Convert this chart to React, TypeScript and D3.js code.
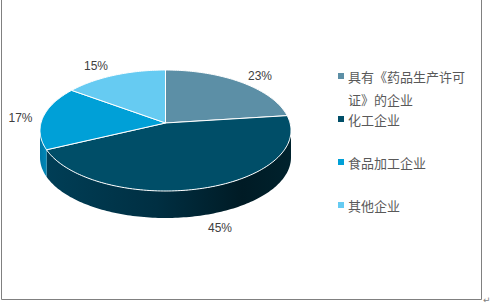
import React from "react";
import * as d3 from "d3";

const categories = ["具有《药品生产许可证》的企业", "化工企业", "食品加工企业", "其他企业"];
const legendLines = [["具有《药品生产许可", "证》的企业"], ["化工企业"], ["食品加工企业"], ["其他企业"]];
const values = [23, 45, 17, 15];
const topColors = ["#5c8fa6", "#004e68", "#00a0d7", "#66cbf2"];
const sideColors = ["#3f6a7d", "#003347", "#0081b0", "#46a8cc"];
const labelPos = [
  [260, 76],
  [220, 228],
  [20.5, 118],
  [96, 66],
];
const legendY = [76, 119, 162, 205];

const W = 492;
const H = 307;
const cx = 165.5;
const cy = 130.5;
const rx = 125.5;
const ry = 60.5;
const a = -0.124;
const depth = 27;

function proj(theta: number, dz: number): [number, number] {
  const u = Math.sin(theta);
  const v = -Math.cos(theta);
  const den = 1 + a * v;
  const vp = (v + a) / den;
  const up = (u * Math.sqrt(1 - a * a)) / den;
  return [cx + rx * up, cy + ry * vp + dz];
}

function arcPts(t1: number, t2: number, dz: number): [number, number][] {
  const n = Math.max(2, Math.ceil(Math.abs(t2 - t1) / 0.02));
  const pts: [number, number][] = [];
  for (let i = 0; i <= n; i++) pts.push(proj(t1 + ((t2 - t1) * i) / n, dz));
  return pts;
}

export default function App() {
  const pie = d3.pie<number>().sort(null).value((d) => d).startAngle(0).endAngle(2 * Math.PI);
  const arcs = pie(values);
  const vis1 = Math.acos(a); // rightmost: cos(theta) = a? compute below
  // rightmost point: v' = 0 -> v = -a -> -cos(theta) = -a -> cos(theta) = a
  const sideStart = Math.acos(a);
  const sideEnd = 2 * Math.PI - sideStart;
  void vis1;
  const line = d3.line();

  const sides = arcs
    .map((d, i) => {
      const s = Math.max(d.startAngle, sideStart);
      const e = Math.min(d.endAngle, sideEnd);
      if (e <= s) return null;
      const top = arcPts(s, e, 0);
      const bot = arcPts(e, s, depth);
      return { i, d: line([...top, ...bot]) + "Z" };
    })
    .filter(Boolean) as { i: number; d: string }[];

  const tops = arcs.map((d, i) => {
    const pts = [proj(0, 0), ...arcPts(d.startAngle, d.endAngle, 0)];
    pts[0] = [cx, cy + ry * a];
    return { i, d: line(pts) + "Z" };
  });

  return (
    <svg width={W} height={H} style={{ position: "absolute", left: 0, top: 0, background: "#fff" }}>
      <defs>
        <linearGradient id="g1" x1="0" x2="1" y1="0" y2="0">
          <stop offset="0%" stopColor="#003e56" />
          <stop offset="45%" stopColor="#002f42" />
          <stop offset="80%" stopColor="#001b25" />
          <stop offset="100%" stopColor="#00222d" />
        </linearGradient>
        <linearGradient id="g2" x1="0" x2="1" y1="0" y2="0">
          <stop offset="0%" stopColor="#0078a6" />
          <stop offset="100%" stopColor="#0088b8" />
        </linearGradient>
      </defs>
      <rect x={0} y={0} width={W} height={H} fill="#fff" />
      {/* frame */}
      <line x1={1.5} y1={0} x2={1.5} y2={299.5} stroke="#808080" strokeWidth={1} />
      <line x1={1.5} y1={299.5} x2={481.5} y2={299.5} stroke="#808080" strokeWidth={1} />
      <line x1={481.5} y1={0} x2={481.5} y2={299.5} stroke="#808080" strokeWidth={1} />
      <text x={483} y={303} fontSize={9} fill="#808080" fontFamily="DejaVu Sans">↵</text>
      {/* sides */}
      {sides.map((s) => (
        <path
          key={"s" + s.i}
          d={s.d}
          fill={s.i === 1 ? "url(#g1)" : s.i === 2 ? "url(#g2)" : sideColors[s.i]}
          stroke="none"
        />
      ))}
      {/* tops */}
      {tops.map((t) => (
        <path key={"t" + t.i} d={t.d} fill={topColors[t.i]} stroke="#ffffff" strokeWidth={1} strokeLinejoin="round" />
      ))}
      {/* data labels */}
      {values.map((v, i) => (
        <text
          key={"l" + i}
          x={labelPos[i][0]}
          y={labelPos[i][1]}
          textAnchor="middle"
          dominantBaseline="central"
          fontFamily="'Liberation Sans', Arial, sans-serif"
          fontSize={12}
          fill="#404040"
        >
          {v}%
        </text>
      ))}
      {/* legend */}
      {categories.map((c, i) => (
        <g key={"lg" + i}>
          <rect x={338} y={legendY[i] - 3} width={6} height={6} fill={topColors[i]} />
          {legendLines[i].map((ln, j) => (
            <text
              key={j}
              x={348}
              y={legendY[i] + j * 23}
              dominantBaseline="central"
              fontFamily="'Noto Sans CJK SC', sans-serif"
              fontSize={13}
              fill="#595959"
            >
              {ln}
            </text>
          ))}
        </g>
      ))}
    </svg>
  );
}
